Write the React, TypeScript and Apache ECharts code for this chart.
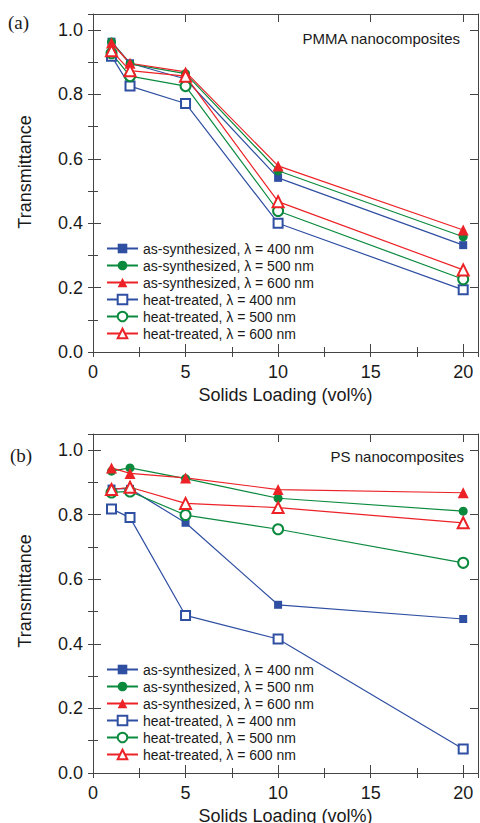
import React, { useEffect, useRef } from "react";
import * as echarts from "echarts";

const loadings = [1, 2, 5, 10, 20];
const seriesNames = [
  "as-synthesized, λ = 400 nm",
  "as-synthesized, λ = 500 nm",
  "as-synthesized, λ = 600 nm",
  "heat-treated, λ = 400 nm",
  "heat-treated, λ = 500 nm",
  "heat-treated, λ = 600 nm",
];
// PMMA nanocomposites (a)
const pmmaAs400 = [0.964, 0.897, 0.848, 0.541, 0.332];
const pmmaAs500 = [0.963, 0.895, 0.865, 0.563, 0.358];
const pmmaAs600 = [0.96, 0.897, 0.87, 0.578, 0.379];
const pmmaHt400 = [0.919, 0.826, 0.772, 0.4, 0.193];
const pmmaHt500 = [0.928, 0.857, 0.826, 0.438, 0.226];
const pmmaHt600 = [0.936, 0.874, 0.857, 0.467, 0.255];
// PS nanocomposites (b)
const psAs400 = [0.881, 0.88, 0.775, 0.521, 0.477];
const psAs500 = [0.935, 0.945, 0.912, 0.851, 0.811];
const psAs600 = [0.945, 0.928, 0.914, 0.878, 0.868];
const psHt400 = [0.818, 0.791, 0.488, 0.415, 0.074];
const psHt500 = [0.869, 0.872, 0.799, 0.755, 0.651];
const psHt600 = [0.878, 0.885, 0.835, 0.822, 0.775];

const panelTitles = ["PMMA nanocomposites", "PS nanocomposites"];
const panelLetters = ["(a)", "(b)"];
const xTitle = "Solids Loading (vol%)";
const yTitle = "Transmittance";

const BLUE = "#2f4fa2";
const GREEN = "#0b8a3e";
const RED = "#ec2227";
const AXIS = "#444444";
const FONT = "Liberation Sans";

const XMAX = 20.8;
const YMAX = 1.05;

const styles = [
  { color: BLUE, symbol: "rect", size: 8 },
  { color: GREEN, symbol: "circle", size: 9 },
  { color: RED, symbol: "triangle", size: 11 },
  { color: BLUE, symbol: "emptyRect", size: 9 },
  { color: GREEN, symbol: "emptyCircle", size: 10 },
  { color: RED, symbol: "emptyTriangle", size: 11 },
];

const grids = [
  { left: 93, top: 14, width: 385, height: 338 },
  { left: 93, top: 434, width: 385, height: 339 },
];

function isMult(v: number, step: number) {
  const r = v / step;
  return Math.abs(r - Math.round(r)) < 1e-6;
}

function makeX(g: number) {
  const base = {
    gridIndex: g,
    type: "value",
    min: 0,
    max: XMAX,
    splitLine: { show: false },
  };
  return [
    {
      ...base,
      position: "bottom",
      interval: 5,
      axisLine: { show: true, onZero: false, lineStyle: { color: AXIS, width: 1 } },
      axisTick: { show: true, inside: true, length: 8, lineStyle: { color: AXIS } },
      axisLabel: {
        show: true,
        fontSize: 18,
        fontFamily: FONT,
        color: "#1a1a1a",
        margin: 11,
        formatter: (v: number) => (isMult(v, 5) ? String(v) : ""),
      },
      name: xTitle,
      nameLocation: "middle",
      nameGap: 34,
      nameTextStyle: { fontSize: 18, fontFamily: FONT, color: "#1a1a1a" },
    },
    {
      ...base,
      position: "bottom",
      interval: 2.5,
      axisLine: { show: false },
      axisTick: { show: true, inside: true, length: 5, lineStyle: { color: AXIS } },
      axisLabel: { show: false },
    },
    {
      ...base,
      position: "top",
      interval: 5,
      axisLine: { show: true, onZero: false, lineStyle: { color: AXIS, width: 1 } },
      axisTick: { show: true, inside: true, length: 8, lineStyle: { color: AXIS } },
      axisLabel: { show: false },
    },
    {
      ...base,
      position: "top",
      interval: 2.5,
      axisLine: { show: false },
      axisTick: { show: true, inside: true, length: 5, lineStyle: { color: AXIS } },
      axisLabel: { show: false },
    },
  ];
}

function makeY(g: number) {
  const base = {
    gridIndex: g,
    type: "value",
    min: 0,
    max: YMAX,
    splitLine: { show: false },
  };
  return [
    {
      ...base,
      position: "left",
      interval: 0.2,
      axisLine: { show: true, onZero: false, lineStyle: { color: AXIS, width: 1 } },
      axisTick: { show: true, inside: true, length: 8, lineStyle: { color: AXIS } },
      axisLabel: {
        show: true,
        fontSize: 18,
        fontFamily: FONT,
        color: "#1a1a1a",
        margin: 10,
        formatter: (v: number) => (isMult(v, 0.2) ? v.toFixed(1) : ""),
      },
    },
    {
      ...base,
      position: "left",
      interval: 0.1,
      axisLine: { show: false },
      axisTick: { show: true, inside: true, length: 5, lineStyle: { color: AXIS } },
      axisLabel: { show: false },
    },
    {
      ...base,
      position: "right",
      interval: 0.2,
      axisLine: { show: true, onZero: false, lineStyle: { color: AXIS, width: 1 } },
      axisTick: { show: true, inside: true, length: 8, lineStyle: { color: AXIS } },
      axisLabel: { show: false },
    },
    {
      ...base,
      position: "right",
      interval: 0.1,
      axisLine: { show: false },
      axisTick: { show: true, inside: true, length: 5, lineStyle: { color: AXIS } },
      axisLabel: { show: false },
    },
  ];
}

function makeSeries(g: number, values: number[][]) {
  return values.map((vals, i) => {
    const st = styles[i];
    const empty = st.symbol.startsWith("empty");
    return {
      type: "line",
      name: seriesNames[i],
      xAxisIndex: g * 4,
      yAxisIndex: g * 4,
      data: loadings.map((x, k) => [x, vals[k]]),
      symbol: st.symbol,
      symbolSize: st.size,
      showAllSymbol: true,
      lineStyle: { color: st.color, width: 1.2 },
      itemStyle: empty
        ? { color: st.color, borderColor: st.color, borderWidth: 1.3 }
        : { color: st.color, borderWidth: 0 },
      z: empty ? 3 : 2,
      emphasis: { disabled: true },
    };
  });
}

function makeLegend(top: number) {
  return {
    data: seriesNames,
    orient: "vertical",
    left: 106,
    top,
    padding: 0,
    itemWidth: 31,
    itemHeight: 12,
    itemGap: 0,
    selectedMode: false,
    textStyle: { fontSize: 14, lineHeight: 17, fontFamily: FONT, color: "#1a1a1a" },
  };
}

export default function App() {
  const ref = useRef<HTMLDivElement>(null);
  useEffect(() => {
    if (!ref.current) return;
    const chart = echarts.init(ref.current, null, { renderer: "svg" });
    const option = {
      animation: false,
      backgroundColor: "#ffffff",
      textStyle: { fontFamily: FONT },
      grid: grids.map((g) => ({ ...g, outerBoundsMode: "none", containLabel: false })),
      xAxis: [...makeX(0), ...makeX(1)],
      yAxis: [...makeY(0), ...makeY(1)],
      legend: [makeLegend(240), makeLegend(661)],
      series: [
        ...makeSeries(0, [pmmaAs400, pmmaAs500, pmmaAs600, pmmaHt400, pmmaHt500, pmmaHt600]),
        ...makeSeries(1, [psAs400, psAs500, psAs600, psHt400, psHt500, psHt600]),
      ],
      graphic: [
        {
          type: "text",
          x: 8,
          y: 22,
          style: { text: panelLetters[0], fontSize: 19, fontFamily: "Liberation Serif", fill: "#1a1a1a", textVerticalAlign: "middle" },
        },
        {
          type: "text",
          x: 10,
          y: 455,
          style: { text: panelLetters[1], fontSize: 19, fontFamily: "Liberation Serif", fill: "#1a1a1a", textVerticalAlign: "middle" },
        },
        {
          type: "text",
          x: 460,
          y: 38,
          style: { text: panelTitles[0], fontSize: 15, fontFamily: FONT, fill: "#1a1a1a", textAlign: "right", textVerticalAlign: "middle" },
        },
        {
          type: "text",
          x: 464,
          y: 456,
          style: { text: panelTitles[1], fontSize: 15, fontFamily: FONT, fill: "#1a1a1a", textAlign: "right", textVerticalAlign: "middle" },
        },
        {
          type: "text",
          x: 25,
          y: 172,
          rotation: Math.PI / 2,
          style: { text: yTitle, fontSize: 18, fontFamily: FONT, fill: "#1a1a1a", textAlign: "center", textVerticalAlign: "middle" },
        },
        {
          type: "text",
          x: 25,
          y: 591,
          rotation: Math.PI / 2,
          style: { text: yTitle, fontSize: 18, fontFamily: FONT, fill: "#1a1a1a", textAlign: "center", textVerticalAlign: "middle" },
        },
      ],
    };
    chart.setOption(option as any);
    return () => chart.dispose();
  }, []);
  return (
    <div
      ref={ref}
      style={{ position: "fixed", left: 0, top: 0, width: 480, height: 823 }}
    />
  );
}
